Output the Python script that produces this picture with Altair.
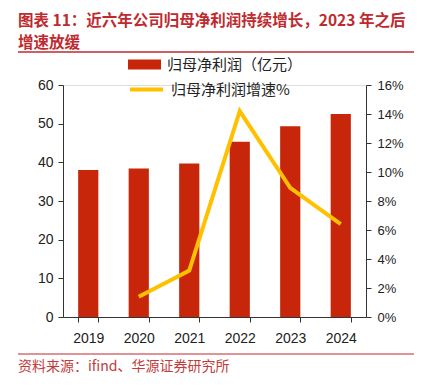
import altair as alt
import pandas as pd

years = ["2019", "2020", "2021", "2022", "2023", "2024"]
profit = [38.0, 38.4, 39.7, 45.3, 49.3, 52.5]
growth = [None, 0.014, 0.032, 0.142, 0.089, 0.064]

bar_name = "归母净利润（亿元）"
line_name = "归母净利润增速%"
title_lines = ["图表 11：近六年公司归母净利润持续增长，2023 年之后", "增速放缓"]
source = "资料来源：ifind、华源证券研究所"

RED = "#C8260A"
GOLD = "#FFC000"
TITLE_RED = "#BE2A2E"
AXIS_C = "#333333"
CJK = "Noto Sans CJK SC"
LAT = "Liberation Sans"

df = pd.DataFrame({"year": years, "profit": profit, "growth": growth,
                   "s1": bar_name, "s2": line_name})

xenc = alt.X("year:N", title=None,
             scale=alt.Scale(paddingInner=0.6, paddingOuter=0.3),
             axis=alt.Axis(labelAngle=0, tickBand="extent", tickSize=5,
                           labelPadding=9, labelFontSize=14, labelFont=LAT,
                           labelColor="#222", domainColor=AXIS_C, tickColor=AXIS_C))

bars = alt.Chart(df).mark_bar(color=RED).encode(
    x=xenc,
    y=alt.Y("profit:Q", title=None,
            scale=alt.Scale(domain=[0, 60], nice=False),
            axis=alt.Axis(values=[0, 10, 20, 30, 40, 50, 60], tickSize=5,
                          labelPadding=5, labelFontSize=14, labelFont=LAT,
                          labelColor="#222", domainColor=AXIS_C, tickColor=AXIS_C,
                          grid=False)),
    color=alt.Color("s1:N", title=None,
                    scale=alt.Scale(domain=[bar_name], range=[RED]),
                    legend=alt.Legend(orient="none", legendX=65, legendY=-37,
                                      symbolType="M-1,-0.3H1V0.3H-1Z",
                                      symbolSize=1089, symbolStrokeWidth=0,
                                      labelFont=CJK, labelFontSize=15,
                                      labelColor="#222", labelOffset=6)),
)

line = alt.Chart(df).mark_line(strokeWidth=4, color=GOLD).encode(
    x=alt.X("year:N"),
    y=alt.Y("growth:Q", title=None,
            scale=alt.Scale(domain=[0, 0.16], nice=False),
            axis=alt.Axis(orient="right", values=[0, 0.02, 0.04, 0.06, 0.08, 0.10, 0.12, 0.14, 0.16],
                          format=".0%", tickSize=5, labelPadding=6, labelFontSize=13,
                          labelFont=LAT, labelColor="#222", domainColor=AXIS_C,
                          tickColor=AXIS_C, grid=False)),
    stroke=alt.Stroke("s2:N", title=None,
                      scale=alt.Scale(domain=[line_name], range=[GOLD]),
                      legend=alt.Legend(orient="none", legendX=65, legendY=-14,
                                        symbolType="stroke", symbolSize=1089,
                                        symbolStrokeWidth=4,
                                        labelFont=CJK, labelFontSize=15,
                                        labelColor="#222", labelOffset=6)),
)

one = alt.Data(values=[{}])

title = alt.Chart(one).mark_text(text=title_lines, align="left", baseline="top",
                                 lineHeight=22, font=CJK, fontSize=15.5,
                                 fontWeight="bold", color=TITLE_RED).encode(
    x=alt.value(-45), y=alt.value(-71))
r1 = alt.Chart(one).mark_rule(color=TITLE_RED, strokeWidth=1.5).encode(
    x=alt.value(-45), x2=alt.value(354), y=alt.value(-33))
r2 = alt.Chart(one).mark_rule(color=TITLE_RED, strokeWidth=1.2).encode(
    x=alt.value(-45), x2=alt.value(354), y=alt.value(269))
src = alt.Chart(one).mark_text(text=source, align="left", baseline="middle",
                               font=CJK, fontSize=14, color="#C23B3B").encode(
    x=alt.value(-45), y=alt.value(282))

chart = alt.layer(bars, line, title, r1, r2, src).resolve_scale(
    y="independent", color="independent", stroke="independent"
).properties(
    width=303, height=232,
    autosize=alt.AutoSizeParams(type="none"),
    padding={"left": 55, "top": 77, "right": 48, "bottom": 61},
).configure_view(stroke=None).configure(background="white")

chart.save("out.html", embed_options={"renderer": "svg", "actions": False})
